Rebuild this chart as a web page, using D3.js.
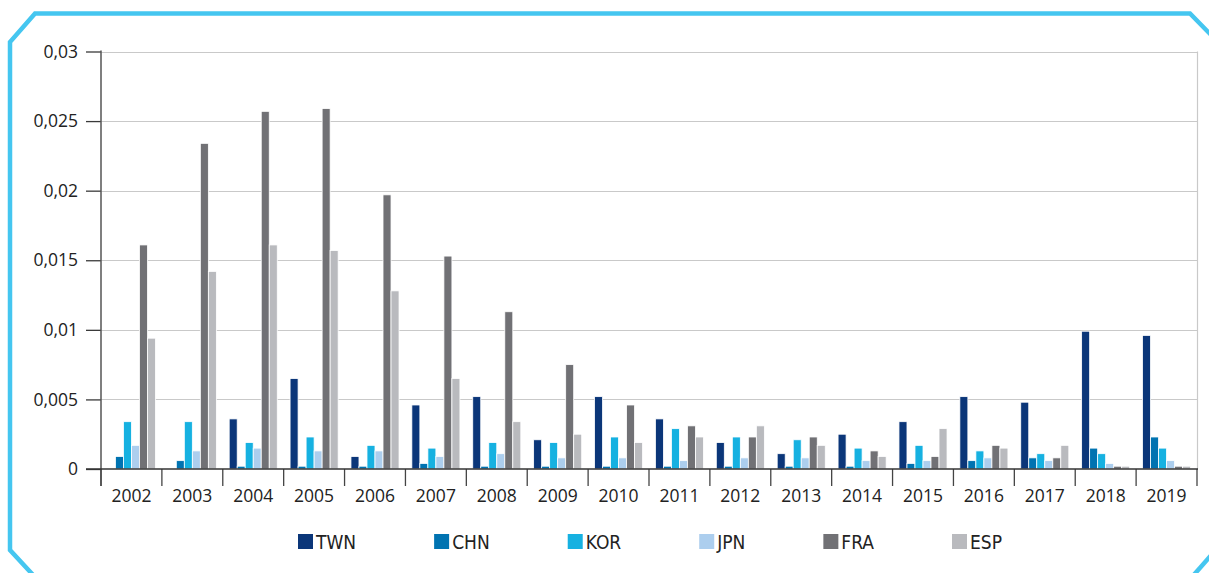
<!DOCTYPE html>
<html>
<head>
<meta charset="utf-8">
<script src="https://cdn.jsdelivr.net/npm/d3@7"></script>
<style>
  html, body { margin: 0; padding: 0; background: #fff; }
  svg { display: block; }
</style>
</head>
<body>
<svg id="chart" width="1209" height="573"></svg>
<script>
// ---- data ----
const years = ["2002","2003","2004","2005","2006","2007","2008","2009","2010","2011","2012","2013","2014","2015","2016","2017","2018","2019"];
const seriesNames = ["TWN","CHN","KOR","JPN","FRA","ESP"];
const TWN = [0, 0, 0.0036, 0.0065, 0.0009, 0.0046, 0.0052, 0.0021, 0.0052, 0.0036, 0.0019, 0.0011, 0.0025, 0.0034, 0.0052, 0.0048, 0.0099, 0.0096];
const CHN = [0.0009, 0.0006, 0.0002, 0.0002, 0.0002, 0.0004, 0.0002, 0.0002, 0.0002, 0.0002, 0.0002, 0.0002, 0.0002, 0.0004, 0.0006, 0.0008, 0.0015, 0.0023];
const KOR = [0.0034, 0.0034, 0.0019, 0.0023, 0.0017, 0.0015, 0.0019, 0.0019, 0.0023, 0.0029, 0.0023, 0.0021, 0.0015, 0.0017, 0.0013, 0.0011, 0.0011, 0.0015];
const JPN = [0.0017, 0.0013, 0.0015, 0.0013, 0.0013, 0.0009, 0.0011, 0.0008, 0.0008, 0.0006, 0.0008, 0.0008, 0.0006, 0.0006, 0.0008, 0.0006, 0.0004, 0.0006];
const FRA = [0.0161, 0.0234, 0.0257, 0.0259, 0.0197, 0.0153, 0.0113, 0.0075, 0.0046, 0.0031, 0.0023, 0.0023, 0.0013, 0.0009, 0.0017, 0.0008, 0.0002, 0.0002];
const ESP = [0.0094, 0.0142, 0.0161, 0.0157, 0.0128, 0.0065, 0.0034, 0.0025, 0.0019, 0.0023, 0.0031, 0.0017, 0.0009, 0.0029, 0.0015, 0.0017, 0.0002, 0.0002];
const yTicks = [0, 0.005, 0.01, 0.015, 0.02, 0.025, 0.03];
const colors = ["#0b3679", "#0073b1", "#16b1e1", "#acceee", "#717175", "#b9babe"];

const seriesValues = [TWN, CHN, KOR, JPN, FRA, ESP];
const rows = years.map((y, i) => {
  const r = { year: y };
  seriesNames.forEach((s, k) => r[s] = seriesValues[k][i]);
  return r;
});

// ---- layout ----
const svg = d3.select("#chart");
const margin = { left: 101, right: 12, top: 51.5, bottom: 104 };
const W = 1209, H = 573;
const x0 = 101, x1 = 1197, yTop = 51.5, yZero = 469;

const locale = d3.formatLocale({ decimal: ",", thousands: ".", grouping: [3], currency: ["", "€"] });
const fmt = locale.format("~g");

const x = d3.scaleBand().domain(years).range([x0, x1]).paddingInner(0).paddingOuter(0);
const xs = d3.scaleBand().domain(seriesNames).range([0, x.bandwidth()]).paddingInner(0).paddingOuter(0.8);
const y = d3.scaleLinear().domain([0, 0.03]).range([yZero, yTop]);

// frame
svg.append("path")
  .attr("d", "M1215,39 L1190,13.5 L35,13.5 L10,42 L10,550 L34,576")
  .attr("fill", "none").attr("stroke", "#45c6f0").attr("stroke-width", 4.5).attr("stroke-linejoin", "miter");
svg.append("path")
  .attr("d", "M1213,553 L1192,577")
  .attr("fill", "none").attr("stroke", "#45c6f0").attr("stroke-width", 4.5);

// gridlines
svg.append("g").selectAll("line").data(yTicks.filter(d => d > 0)).join("line")
  .attr("x1", x0).attr("x2", x1)
  .attr("y1", d => Math.round(y(d)) + 0.5).attr("y2", d => Math.round(y(d)) + 0.5)
  .attr("stroke", "#c9c9c9").attr("stroke-width", 1.2);
// right border
svg.append("line").attr("x1", x1 + 0.5).attr("x2", x1 + 0.5).attr("y1", y(0.03)).attr("y2", yZero)
  .attr("stroke", "#c9c9c9").attr("stroke-width", 1.2);

// bars
const groups = svg.append("g").selectAll("g").data(rows).join("g")
  .attr("transform", d => `translate(${x(d.year)},0)`);
groups.selectAll("rect").data(d => seriesNames.map((s, k) => ({ key: s, k, value: d[s] }))).join("rect")
  .attr("x", d => xs(d.key))
  .attr("width", xs.bandwidth())
  .attr("y", d => y(d.value))
  .attr("height", d => yZero - y(d.value))
  .attr("fill", d => colors[d.k])
  .attr("stroke", "#fff").attr("stroke-width", d => d.value > 0 ? 0.8 : 0);

// y axis
const yAxis = d3.axisLeft(y).tickValues(yTicks).tickFormat(fmt).tickSize(15).tickPadding(8);
const gy = svg.append("g").attr("transform", `translate(${x0},0)`).call(yAxis);
gy.select(".domain").remove();
gy.selectAll(".tick line").attr("stroke", "#3a3a3a").attr("stroke-width", 1.3);
gy.selectAll(".tick text").attr("font-family", "'Open Sans', 'Noto Sans', sans-serif").attr("font-size", 17.5).attr("fill", "#222");
svg.append("line").attr("x1", x0).attr("x2", x0).attr("y1", yTop - 1).attr("y2", 486)
  .attr("stroke", "#555").attr("stroke-width", 1.5);

// x axis: category separators
const sepTicks = years.map(d => x(d)).concat([x1]);
svg.append("g").selectAll("line").data(sepTicks).join("line")
  .attr("x1", d => d).attr("x2", d => d).attr("y1", yZero).attr("y2", 486)
  .attr("stroke", "#444").attr("stroke-width", 1.3);
svg.append("line").attr("x1", 86).attr("x2", x1 + 1).attr("y1", yZero).attr("y2", yZero)
  .attr("stroke", "#333").attr("stroke-width", 1.6);
svg.append("g").selectAll("text").data(years).join("text")
  .attr("x", d => x(d) + x.bandwidth() / 2).attr("y", 502)
  .attr("text-anchor", "middle")
  .attr("font-family", "'Open Sans', 'Noto Sans', sans-serif").attr("font-size", 17.5).attr("fill", "#222")
  .text(d => d);

// legend
const lg = svg.append("g");
let lx = 298;
seriesNames.forEach((s, k) => {
  const g = lg.append("g").attr("transform", `translate(${lx},0)`);
  g.append("rect").attr("x", 0).attr("y", 534).attr("width", 15).attr("height", 15).attr("fill", colors[k]);
  const t = g.append("text").attr("x", 18).attr("y", 549)
    .attr("font-family", "'Liberation Sans Narrow', 'DejaVu Sans Condensed', sans-serif")
    .attr("font-size", 19).attr("fill", "#222").text(s);
  lx += 18 + t.node().getComputedTextLength() + 78;
});
</script>
</body>
</html>
